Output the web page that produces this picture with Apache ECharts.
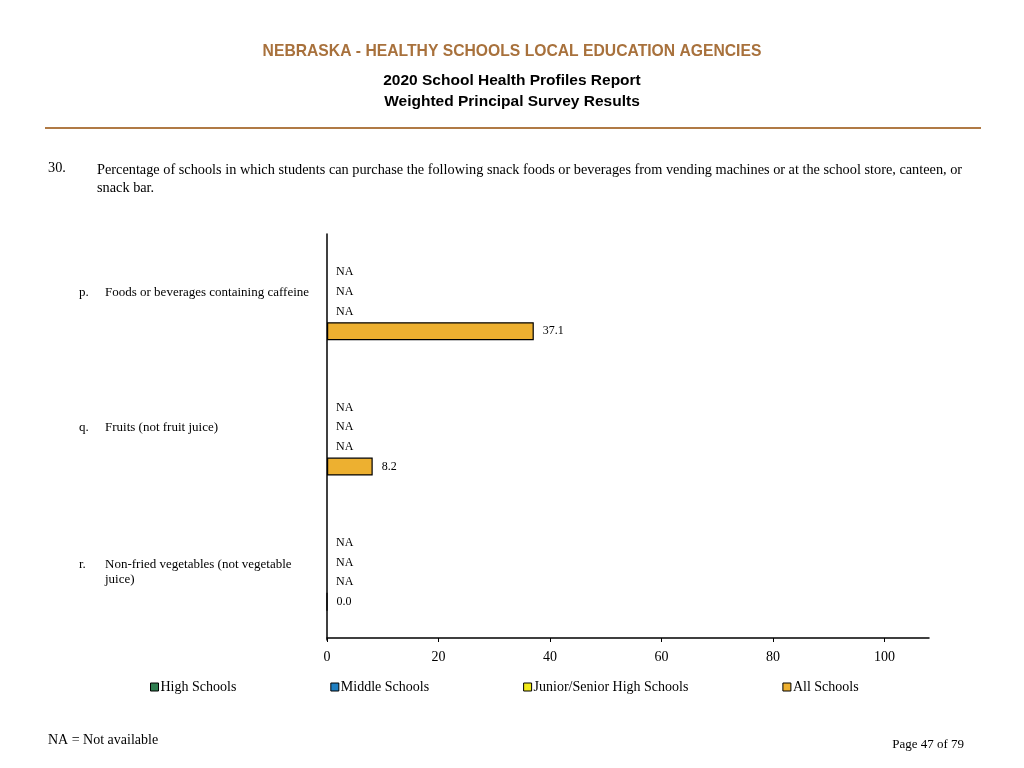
<!DOCTYPE html>
<html>
<head>
<meta charset="utf-8">
<script src="https://cdn.jsdelivr.net/npm/echarts@6/dist/echarts.min.js"></script>
<style>html,body{margin:0;padding:0;background:#fff}#c{width:1024px;height:768px}</style>
</head>
<body>
<div id="c"></div>
<script>
var categoryKeys = ['p.', 'q.', 'r.'];
var categoryNames = ['Foods or beverages containing caffeine', 'Fruits (not fruit juice)', 'Non-fried vegetables (not vegetable\njuice)'];
var seriesNames = ['High Schools', 'Middle Schools', 'Junior/Senior High Schools', 'All Schools'];
var highSchools = [null, null, null];
var middleSchools = [null, null, null];
var juniorSeniorHigh = [null, null, null];
var allSchools = [37.1, 8.2, 0.0];
var xTicks = [0, 20, 40, 60, 80, 100];
var colors = ['#2E7D4F', '#1F7FC1', '#F2EA1A', '#EDB030'];

var seriesValues = [highSchools, middleSchools, juniorSeniorHigh, allSchools];
var serif = '"Liberation Serif", "DejaVu Serif", serif';
var sans = '"Liberation Sans", Arial, sans-serif';

var chart = echarts.init(document.getElementById('c'), null, {renderer: 'canvas'});

var series = seriesValues.map(function (arr, si) {
  return {
    name: seriesNames[si],
    type: 'bar',
    barWidth: 18,
    barGap: '9.4%',
    itemStyle: {color: colors[si], borderColor: '#000', borderWidth: 1.2},
    label: {
      show: true, position: 'right', distance: 9, color: '#000',
      fontFamily: serif, fontSize: 12,
      formatter: function (p) {
        var v = arr[p.dataIndex];
        return v === null ? 'NA' : v.toFixed(1);
      }
    },
    data: arr.map(function (v) {
      return v === null ? {value: 0, itemStyle: {borderWidth: 0, color: 'rgba(0,0,0,0)'}} : v;
    })
  };
});

chart.setOption({
  animation: false,
  backgroundColor: '#fff',
  grid: {left: 327, right: 95, top: 234, bottom: 128, containLabel: false},
  xAxis: {
    type: 'value', min: 0, max: 108, interval: 20, offset: -2,
    splitLine: {show: false},
    axisLine: {show: true, lineStyle: {color: '#000', width: 1.5}},
    axisTick: {show: true, length: 4, lineStyle: {color: '#000'}, customValues: xTicks},
    axisLabel: {color: '#000', fontFamily: serif, fontSize: 14, margin: 12, customValues: xTicks}
  },
  yAxis: {
    type: 'category', inverse: true,
    data: categoryKeys,
    axisLine: {show: true, lineStyle: {color: '#000', width: 1.5}},
    axisTick: {show: false},
    axisLabel: {
      align: 'left', margin: 248, color: '#000', fontFamily: serif, fontSize: 13,
      formatter: function (val, idx) {
        var lines = categoryNames[idx].split('\n');
        if (lines.length === 1) {
          return '{ks|' + val + '}{ts|' + lines[0] + '}{sp|\u200b}';
        }
        return lines.map(function (t, i) {
          return (i === 0 ? '{k|' + val + '}' : '{k|}') + '{t|' + t + '}';
        }).join('\n');
      },
      rich: {
        k: {width: 26, fontFamily: serif, fontSize: 13, color: '#000', lineHeight: 15},
        t: {fontFamily: serif, fontSize: 13, color: '#000', lineHeight: 15},
        ks: {width: 26, fontFamily: serif, fontSize: 13, color: '#000', lineHeight: 15, verticalAlign: 'top'},
        ts: {fontFamily: serif, fontSize: 13, color: '#000', lineHeight: 15, verticalAlign: 'top'},
        sp: {fontSize: 13, lineHeight: 32, width: 0}
      }
    }
  },
  legend: {
    left: 145, top: 675, itemWidth: 8, itemHeight: 8, itemGap: 94,
    icon: 'rect',
    textStyle: {fontFamily: serif, fontSize: 14, color: '#000', padding: [0, 0, 0, -3]},
    itemStyle: {borderColor: '#000', borderWidth: 1},
    data: seriesNames,
    selectedMode: false
  },
  graphic: [
    {type: 'text', left: 'center', top: 44, style: {text: 'NEBRASKA - HEALTHY SCHOOLS LOCAL EDUCATION AGENCIES', font: 'bold 15.7px ' + sans, fill: '#A8713C'}},
    {type: 'text', left: 'center', top: 73, style: {text: '2020 School Health Profiles Report', font: 'bold 15.5px ' + sans, fill: '#000'}},
    {type: 'text', left: 'center', top: 94, style: {text: 'Weighted Principal Survey Results', font: 'bold 15.5px ' + sans, fill: '#000'}},
    {type: 'line', shape: {x1: 45, y1: 128, x2: 981, y2: 128}, style: {stroke: '#B07A45', lineWidth: 2}},
    {type: 'text', left: 48, top: 161, style: {text: '30.', font: '14.3px ' + serif, fill: '#000'}},
    {type: 'text', left: 97, top: 161, style: {text: 'Percentage of schools in which students can purchase the following snack foods or beverages from vending machines or at the school store, canteen, or\nsnack bar.', font: '14.3px ' + serif, fill: '#000', lineHeight: 18}},
    {type: 'text', left: 48, top: 733, style: {text: 'NA = Not available', font: '14px ' + serif, fill: '#000'}},
    {type: 'text', right: 60, top: 738, style: {text: 'Page 47 of 79', font: '13px ' + serif, fill: '#000'}}
  ],
  series: series
});
</script>
</body>
</html>
